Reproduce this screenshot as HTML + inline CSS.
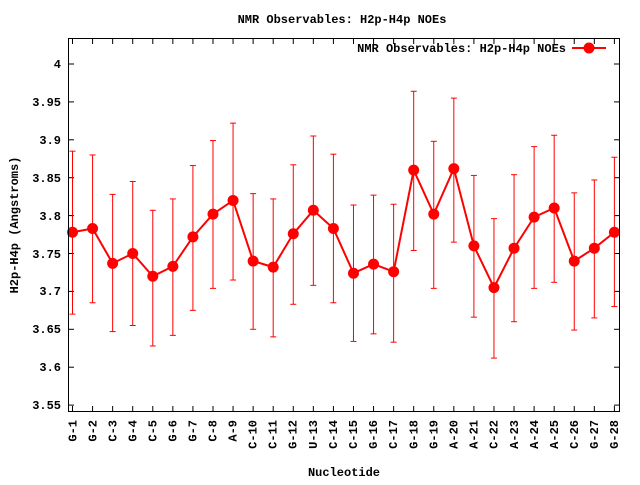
<!DOCTYPE html>
<html><head><meta charset="utf-8"><style>
html,body{margin:0;padding:0;background:#fff}
svg text{font-family:"Liberation Mono","DejaVu Sans Mono",monospace;font-weight:bold;font-size:12px;fill:#000}
</style></head><body>
<svg id="s" width="640" height="480" xmlns="http://www.w3.org/2000/svg">
<rect width="640" height="480" fill="#fff"/>
<text x="342" y="23" text-anchor="middle">NMR Observables: H2p-H4p NOEs</text>
<text x="344" y="476" text-anchor="middle">Nucleotide</text>
<text transform="translate(18,225) rotate(-90)" text-anchor="middle">H2p-H4p (Angstroms)</text>
<g text-anchor="end">
<text x="61" y="68">4</text>
<text x="61" y="106">3.95</text>
<text x="61" y="144">3.9</text>
<text x="61" y="182">3.85</text>
<text x="61" y="220">3.8</text>
<text x="61" y="258">3.75</text>
<text x="61" y="295">3.7</text>
<text x="61" y="333">3.65</text>
<text x="61" y="371">3.6</text>
<text x="61" y="409">3.55</text>
</g>
<g text-anchor="end">
<text transform="translate(76.5,420) rotate(-90)">G-1</text>
<text transform="translate(96.5,420) rotate(-90)">G-2</text>
<text transform="translate(116.5,420) rotate(-90)">C-3</text>
<text transform="translate(136.5,420) rotate(-90)">G-4</text>
<text transform="translate(156.5,420) rotate(-90)">C-5</text>
<text transform="translate(176.5,420) rotate(-90)">G-6</text>
<text transform="translate(196.5,420) rotate(-90)">G-7</text>
<text transform="translate(216.5,420) rotate(-90)">C-8</text>
<text transform="translate(236.5,420) rotate(-90)">A-9</text>
<text transform="translate(256.5,420) rotate(-90)">C-10</text>
<text transform="translate(276.5,420) rotate(-90)">C-11</text>
<text transform="translate(296.5,420) rotate(-90)">G-12</text>
<text transform="translate(317,420) rotate(-90)">U-13</text>
<text transform="translate(337,420) rotate(-90)">C-14</text>
<text transform="translate(357,420) rotate(-90)">C-15</text>
<text transform="translate(377,420) rotate(-90)">G-16</text>
<text transform="translate(397,420) rotate(-90)">C-17</text>
<text transform="translate(417.5,420) rotate(-90)">G-18</text>
<text transform="translate(437.5,420) rotate(-90)">G-19</text>
<text transform="translate(457.5,420) rotate(-90)">A-20</text>
<text transform="translate(477.5,420) rotate(-90)">A-21</text>
<text transform="translate(497.5,420) rotate(-90)">C-22</text>
<text transform="translate(518,420) rotate(-90)">A-23</text>
<text transform="translate(538,420) rotate(-90)">A-24</text>
<text transform="translate(558,420) rotate(-90)">A-25</text>
<text transform="translate(578,420) rotate(-90)">C-26</text>
<text transform="translate(598,420) rotate(-90)">G-27</text>
<text transform="translate(618,420) rotate(-90)">G-28</text>
</g>
<text x="566" y="52" text-anchor="end">NMR Observables: H2p-H4p NOEs</text>
<line x1="572" y1="48" x2="606" y2="48" stroke="#f00" stroke-width="2"/>
<circle cx="589" cy="48" r="5.5" fill="#f00"/>
<g id="g"></g>
<rect x="68.5" y="38.5" width="551" height="373" fill="none" stroke="#000" stroke-width="1"/>
</svg>
<script>
var d=[[3.778,3.67,3.885],[3.783,3.685,3.88],[3.737,3.647,3.828],[3.75,3.655,3.845],[3.72,3.628,3.807],[3.733,3.642,3.822],[3.772,3.675,3.866],[3.802,3.704,3.899],[3.82,3.715,3.922],[3.74,3.65,3.829],[3.732,3.64,3.822],[3.776,3.683,3.867],[3.807,3.708,3.905],[3.783,3.685,3.881],[3.724,3.634,3.814],[3.736,3.644,3.827],[3.726,3.633,3.815],[3.86,3.754,3.964],[3.802,3.704,3.898],[3.862,3.765,3.955],[3.76,3.666,3.853],[3.705,3.612,3.796],[3.757,3.66,3.854],[3.798,3.704,3.891],[3.81,3.712,3.906],[3.74,3.649,3.83],[3.757,3.665,3.847],[3.778,3.68,3.877]];
function Y(v){return 64+(4-v)*758}
var s='',pts=[];
var yt=[4,3.95,3.9,3.85,3.8,3.75,3.7,3.65,3.6,3.55];
yt.forEach(function(v){var y=Y(v).toFixed(1);s+='<line x1="69" y1="'+y+'" x2="74" y2="'+y+'" stroke="#000"/><line x1="614" y1="'+y+'" x2="619" y2="'+y+'" stroke="#000"/>';});
d.forEach(function(r,i){var x=72.5+20.07*i;
s+='<line x1="'+x+'" y1="39" x2="'+x+'" y2="44" stroke="#000"/><line x1="'+x+'" y1="406" x2="'+x+'" y2="411" stroke="#000"/>';
var a=Y(r[1]),b=Y(r[2]);
s+='<line x1="'+x+'" y1="'+a+'" x2="'+x+'" y2="'+b+'" stroke="#f00"/><line x1="'+(x-3)+'" y1="'+a+'" x2="'+(x+3)+'" y2="'+a+'" stroke="#f00"/><line x1="'+(x-3)+'" y1="'+b+'" x2="'+(x+3)+'" y2="'+b+'" stroke="#f00"/>';
pts.push(x+','+Y(r[0]));});
s+='<polyline points="'+pts.join(' ')+'" fill="none" stroke="#f00" stroke-width="2"/>';
pts.forEach(function(p){var c=p.split(',');s+='<circle cx="'+c[0]+'" cy="'+c[1]+'" r="5.5" fill="#f00"/>';});
document.getElementById('g').innerHTML=s;
</script>
</body></html>
